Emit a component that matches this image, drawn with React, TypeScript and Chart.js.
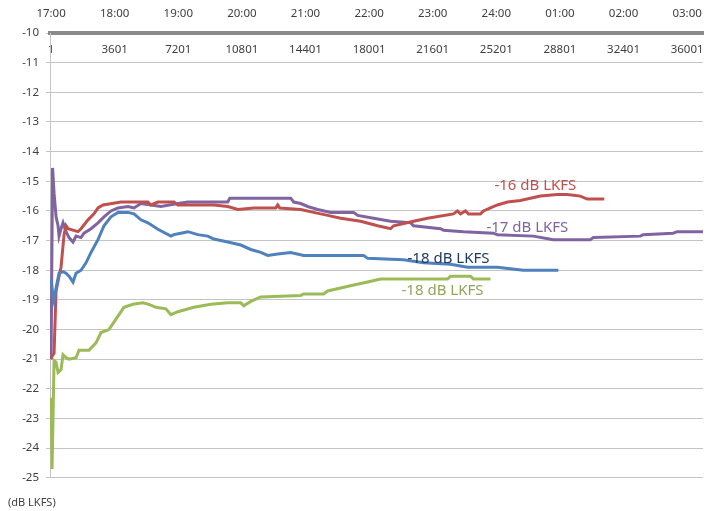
import React, { useEffect, useRef } from "react";
import { Chart, registerables } from "chart.js";

Chart.register(...registerables);

// tick values (seconds) and labels
const secTicks = [1, 3601, 7201, 10801, 14401, 18001, 21601, 25201, 28801, 32401, 36001];
const timeLabels = ["17:00", "18:00", "19:00", "20:00", "21:00", "22:00", "23:00", "24:00", "01:00", "02:00", "03:00"];

// -16 dB LKFS series (red)
const redX = [1, 57, 170, 283, 452, 565, 735, 848, 961, 1526, 1696, 2091, 2430, 2656, 2939, 3956, 5482, 5652, 6048, 6952, 7178, 9213, 10004, 10570, 11474, 12717, 12830, 12943, 14130, 14865, 15656, 16391, 17521, 18482, 19217, 19386, 20517, 21308, 22778, 23004, 23173, 23456, 23625, 24304, 24473, 24869, 25264, 25830, 26564, 27695, 28656, 29221, 29956, 30351, 31312];
const redY = [-21.0, -20.9, -20.8, -18.7, -18.2, -17.9, -16.8, -16.5, -16.6, -16.7, -16.6, -16.3, -16.1, -15.9, -15.8, -15.7, -15.7, -15.8, -15.7, -15.7, -15.8, -15.8, -15.85, -15.95, -15.9, -15.9, -15.8, -15.9, -15.95, -16.05, -16.15, -16.25, -16.35, -16.5, -16.6, -16.5, -16.35, -16.25, -16.1, -16.0, -16.1, -16.0, -16.1, -16.1, -16.0, -15.9, -15.8, -15.7, -15.65, -15.5, -15.45, -15.45, -15.5, -15.6, -15.6];

// -17 dB LKFS series (purple)
const purpleX = [1, 85, 170, 283, 396, 452, 565, 678, 848, 1017, 1243, 1413, 1696, 1865, 2261, 2656, 2996, 3391, 3787, 4352, 4691, 5087, 6217, 7178, 7743, 10004, 10117, 13565, 13734, 14130, 14526, 15091, 15826, 17126, 17352, 18256, 19217, 20347, 20517, 22043, 22212, 23343, 25038, 25264, 27299, 28430, 30521, 30690, 33347, 33516, 35212, 35438, 36900];
const purpleY = [-21.0, -14.55, -15.4, -16.2, -16.5, -16.85, -16.6, -16.4, -16.7, -16.9, -17.05, -16.85, -16.9, -16.75, -16.6, -16.4, -16.2, -16.0, -15.9, -15.85, -15.9, -15.75, -15.85, -15.75, -15.7, -15.7, -15.57, -15.57, -15.7, -15.75, -15.85, -15.95, -16.05, -16.05, -16.15, -16.25, -16.35, -16.4, -16.5, -16.6, -16.65, -16.7, -16.75, -16.8, -16.85, -16.97, -16.97, -16.9, -16.85, -16.8, -16.75, -16.7, -16.7];

// -18 dB LKFS series (blue)
const blueX = [1, 113, 170, 283, 452, 678, 848, 1017, 1243, 1413, 1696, 1978, 2261, 2656, 2996, 3391, 3787, 4352, 4691, 5087, 5482, 6048, 6782, 6952, 7348, 7743, 8308, 8874, 9213, 10004, 10739, 11304, 11869, 12265, 12830, 13565, 14300, 17691, 17917, 19952, 21082, 22608, 23569, 25264, 26734, 28712];
const blueY = [-18.3, -18.9, -19.05, -18.6, -18.1, -18.05, -18.1, -18.2, -18.4, -18.1, -18.0, -17.75, -17.4, -16.97, -16.5, -16.2, -16.05, -16.05, -16.1, -16.3, -16.4, -16.62, -16.85, -16.8, -16.75, -16.7, -16.8, -16.85, -16.95, -17.05, -17.15, -17.3, -17.4, -17.5, -17.45, -17.4, -17.5, -17.5, -17.6, -17.65, -17.75, -17.8, -17.9, -17.9, -18.0, -18.0];

// -18 dB LKFS series (green)
const greenX = [1, 57, 170, 283, 396, 565, 678, 848, 1017, 1413, 1583, 2148, 2543, 2826, 3278, 3674, 4126, 4635, 5200, 5539, 5935, 6500, 6782, 7178, 8082, 9043, 10004, 10739, 10908, 11304, 11869, 14130, 14300, 15430, 15656, 16391, 17126, 17917, 18652, 22438, 22608, 23738, 23908, 24869];
const greenY = [-22.3, -24.7, -21.05, -21.1, -21.45, -21.35, -20.85, -20.95, -21.0, -20.95, -20.7, -20.7, -20.45, -20.1, -20.0, -19.65, -19.25, -19.15, -19.1, -19.15, -19.25, -19.3, -19.5, -19.4, -19.25, -19.15, -19.1, -19.1, -19.2, -19.05, -18.9, -18.85, -18.8, -18.8, -18.7, -18.6, -18.5, -18.4, -18.3, -18.3, -18.2, -18.2, -18.3, -18.3];

// in-chart annotation labels
const noteTexts = ["-16 dB LKFS", "-17 dB LKFS", "-18 dB LKFS", "-18 dB LKFS"];
const noteX = [27412, 26960, 22495, 22156];
const noteY = [-15.15, -16.57, -17.61, -18.69];
const noteColors = ["#C0504D", "#8064A2", "#1F3A60", "#8FA65A"];

const toPoints = (xs: number[], ys: number[]) => xs.map((x, i) => ({ x, y: ys[i] }));

const notesPlugin = {
  id: "notes",
  afterDatasetsDraw(chart: any) {
    const { ctx, scales } = chart;
    ctx.save();
    ctx.font = "15px 'Noto Sans', sans-serif";
    ctx.textAlign = "center";
    ctx.textBaseline = "middle";
    noteTexts.forEach((t, i) => {
      ctx.fillStyle = noteColors[i];
      ctx.fillText(t, scales.x.getPixelForValue(noteX[i]), scales.y.getPixelForValue(noteY[i]));
    });
    ctx.restore();
  },
};

export default function App() {
  const ref = useRef<HTMLCanvasElement>(null);
  useEffect(() => {
    if (!ref.current) return;
    Chart.defaults.font.family = "'Noto Sans', sans-serif";
    Chart.defaults.color = "#404040";
    const setTicks = (s: any) => {
      s.ticks = secTicks.map((v) => ({ value: v }));
    };
    const common = { pointRadius: 0, borderWidth: 3, fill: false, tension: 0 };
    const chart = new Chart(ref.current, {
      type: "line",
      data: {
        datasets: [
          { ...common, label: "-18 dB LKFS (green)", data: toPoints(greenX, greenY), borderColor: "#9BBB59" },
          { ...common, label: "-18 dB LKFS", data: toPoints(blueX, blueY), borderColor: "#4F81BD" },
          { ...common, label: "-16 dB LKFS", data: toPoints(redX, redY), borderColor: "#C0504D" },
          { ...common, label: "-17 dB LKFS", data: toPoints(purpleX, purpleY), borderColor: "#8064A2" },
        ],
      },
      options: {
        animation: false,
        responsive: true,
        maintainAspectRatio: false,
        layout: { padding: { left: 8, right: 6, top: 0, bottom: 0 } },
        scales: {
          x: {
            type: "linear",
            min: -60,
            max: 36900,
            position: { y: -10 } as any,
            afterBuildTicks: setTicks,
            afterFit: (s: any) => {
              s.height = 0;
            },
            grid: { display: false, drawTicks: true, tickLength: 10 },
            border: { display: true, color: "#8a8a8a", width: 4 },
            ticks: { padding: 0, maxRotation: 0, autoSkip: false, font: { size: 11.5 }, callback: (v: any) => String(v) },
          },
          x2: {
            type: "linear",
            min: -60,
            max: 36900,
            position: "top",
            afterBuildTicks: setTicks,
            afterFit: (s: any) => {
              s.height = 33;
            },
            grid: { display: false, drawTicks: true, tickLength: 12 },
            border: { display: false },
            ticks: {
              padding: 0,
              maxRotation: 0,
              autoSkip: false,
              font: { size: 11.5 },
              callback: (v: any) => timeLabels[secTicks.indexOf(v)] ?? "",
            },
          },
          y: {
            min: -25,
            max: -10,
            afterFit: (s: any) => {
              s.width = 42;
            },
            grid: { color: "#c4c4c4", lineWidth: 1, tickLength: 4 },
            border: { color: "#c4c4c4" },
            ticks: { stepSize: 1, padding: 7, font: { size: 11.5 } },
          },
        },
        plugins: {
          legend: { display: false },
          tooltip: { enabled: false },
          title: {
            display: true,
            text: "(dB LKFS)",
            position: "bottom",
            align: "start",
            color: "#404040",
            font: { size: 11, weight: "normal" },
            padding: { top: 18, bottom: 2 },
          },
        },
      },
      plugins: [notesPlugin],
    });
    return () => chart.destroy();
  }, []);
  return (
    <div style={{ position: "absolute", left: 0, top: 0, width: 709, height: 511, background: "#fff" }}>
      <canvas ref={ref} />
    </div>
  );
}
